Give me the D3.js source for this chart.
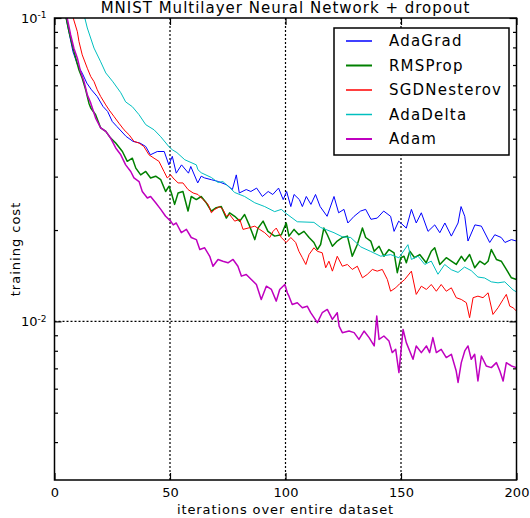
<!DOCTYPE html>
<html>
<head>
<meta charset="utf-8">
<script src="https://cdn.jsdelivr.net/npm/d3@7"></script>
<style>
    body { margin: 0; background: #fff; }
    text { font-family: "DejaVu Sans", sans-serif; }
</style>
</head>
<body>
<div id="chart"></div>
<script>
// [iteration, training cost]
const adaGrad = [[0,0.17],[3,0.12],[5,0.10],[8,0.0774],[10,0.0700],[12,0.0658],[14,0.0610],[16,0.0580],[18.5,0.0551],[21,0.0511],[23,0.0492],[25,0.0456],[27,0.0439],[31,0.0407],[34,0.0392],[37,0.0387],[39.5,0.0377],[41.5,0.0354],[44.5,0.0363],[47.5,0.0363],[49.5,0.0328],[51,0.0350],[52.7,0.0308],[55,0.0328],[58,0.0308],[59,0.0324],[62,0.0286],[63.5,0.0301],[65,0.0297],[68,0.0293],[71,0.0289],[74.5,0.0282],[77,0.0272],[78.7,0.0304],[80,0.0265],[83,0.0272],[85,0.0268],[87.5,0.0275],[90,0.0258],[92.5,0.0268],[94.5,0.0262],[97,0.0275],[99,0.0252],[100.5,0.0268],[102.3,0.0239],[103.7,0.0262],[106,0.0252],[107.3,0.0239],[109,0.0258],[111,0.0243],[113,0.0262],[115,0.0239],[118,0.0222],[121,0.0258],[123,0.0228],[125.3,0.0234],[127,0.0211],[129.7,0.0222],[132.5,0.0231],[134.7,0.0234],[137,0.0217],[139.7,0.0219],[142.5,0.0231],[145.5,0.0222],[147,0.0198],[149,0.0214],[152.3,0.0203],[154.5,0.0234],[156.6,0.0211],[158.8,0.0228],[161.7,0.0198],[164.6,0.0208],[166.8,0.0196],[169,0.0211],[171.8,0.0191],[174.7,0.0211],[176,0.0239],[177.6,0.0222],[179,0.0184],[182,0.0208],[184.8,0.0206],[188.4,0.0182],[190.6,0.0193],[193.4,0.0189],[195,0.0182],[197.8,0.0186],[200,0.0184]];

const rmsProp = [[0,0.16],[3,0.12],[4.8,0.102],[6.3,0.0901],[7.7,0.0815],[9.2,0.0737],[10.6,0.0674],[12,0.0633],[13.5,0.0580],[14.9,0.0524],[15.7,0.0505],[17.8,0.0480],[20,0.0434],[22.2,0.0423],[24.3,0.0402],[26.5,0.0387],[29.4,0.0363],[31.5,0.0337],[33.7,0.0345],[35.2,0.0320],[37.3,0.0304],[39.5,0.0312],[41.6,0.0297],[43.8,0.0301],[46,0.0293],[48.1,0.0268],[49.6,0.0279],[50.6,0.0265],[52,0.0243],[53.5,0.0265],[55.6,0.0268],[57.8,0.0231],[59.2,0.0258],[61.4,0.0252],[63.5,0.0258],[65.7,0.0246],[67.9,0.0231],[70,0.0237],[72.2,0.0239],[74.4,0.0219],[75.8,0.0228],[78,0.0222],[80.2,0.0214],[82.3,0.0225],[84.5,0.0206],[86.7,0.0186],[88.1,0.0203],[90.3,0.0214],[92.4,0.0198],[95.3,0.0191],[98.2,0.0193],[100.3,0.0211],[101.5,0.0191],[103.7,0.0201],[105.8,0.0193],[108,0.0198],[110.2,0.0189],[112.3,0.0182],[113.8,0.01725],[115.2,0.01792],[116.6,0.0203],[118.1,0.0193],[120.3,0.01769],[122.4,0.0184],[124.6,0.0189],[126.8,0.0191],[128.9,0.01639],[131.1,0.01792],[133.3,0.0203],[134.7,0.0189],[136.9,0.0184],[138.4,0.01702],[140.5,0.01769],[142.6,0.01639],[144.8,0.01725],[147,0.01683],[148.4,0.01447],[149.9,0.01621],[151.3,0.01639],[152.3,0.01560],[153.8,0.01702],[155.9,0.01621],[158.1,0.01661],[160.9,0.01560],[163.1,0.01702],[164.6,0.01748],[166.8,0.01540],[169.6,0.01621],[171.8,0.01579],[173.9,0.01540],[176.1,0.01639],[177.6,0.01579],[179.7,0.01661],[181.9,0.01502],[184.1,0.01579],[186.2,0.01540],[187.7,0.01579],[189.1,0.01725],[191.3,0.01600],[193.4,0.01579],[195.6,0.01483],[197.8,0.01392],[200,0.01374]];

const sgdNesterov = [[0,0.16],[4,0.125],[7.7,0.1023],[9.9,0.0901],[10.6,0.0836],[12,0.0756],[14.2,0.0683],[15.7,0.0641],[17.1,0.0617],[18.5,0.0580],[20,0.0551],[22.2,0.0517],[23.6,0.0498],[25.8,0.0473],[27.9,0.0450],[30.1,0.0428],[32.3,0.0412],[34.4,0.0392],[36.6,0.0387],[38.7,0.0377],[40.9,0.0354],[43.1,0.0345],[45.2,0.0337],[47.4,0.0312],[48.8,0.0297],[50.3,0.0304],[51.3,0.0297],[53.5,0.0286],[55.6,0.0286],[57.8,0.0272],[60,0.0265],[62.1,0.0262],[64.3,0.0252],[66.5,0.0243],[67.9,0.0228],[69.4,0.0234],[71.5,0.0239],[72.9,0.0234],[74.4,0.0222],[75.8,0.0225],[78,0.0214],[80.2,0.0217],[81.6,0.0201],[83.8,0.0203],[86.7,0.0206],[88.8,0.0201],[91,0.0196],[93.2,0.0189],[94.6,0.0198],[96,0.0203],[98.2,0.0189],[100.3,0.0182],[102.3,0.0189],[104.4,0.0182],[105.8,0.01702],[107.3,0.01621],[108.8,0.01540],[110.2,0.01661],[112.3,0.01748],[113.8,0.01702],[115.9,0.01683],[117.4,0.01502],[118.8,0.01579],[120.3,0.01464],[122.4,0.01639],[124.6,0.01520],[126.8,0.01540],[128.9,0.01483],[131.1,0.01520],[133.3,0.01392],[135.4,0.01428],[137.6,0.01483],[139.7,0.01464],[141.9,0.01483],[144.1,0.01374],[145.5,0.01257],[147.7,0.01290],[149.4,0.01330],[151.6,0.01374],[154.5,0.01464],[156.6,0.01227],[158.8,0.01306],[161,0.01274],[163.1,0.01323],[165.3,0.01257],[167.4,0.01323],[169.6,0.01257],[171.8,0.01290],[173.9,0.01197],[176.1,0.01181],[178.3,0.01152],[179.7,0.01028],[181.2,0.01197],[183.3,0.01211],[185.5,0.01197],[187.7,0.01242],[189.8,0.01054],[192,0.01109],[194.2,0.01181],[195.6,0.01227],[197.1,0.01122],[198.5,0.01109],[200,0.01081]];

const adaDelta = [[0,0.22],[6,0.15],[10,0.118],[12.8,0.1023],[14.2,0.0927],[17.1,0.0796],[20,0.0717],[22.2,0.0659],[25.3,0.0616],[28.7,0.0567],[30.8,0.0529],[33.7,0.0510],[36.6,0.0480],[39.5,0.0445],[43.1,0.0428],[46,0.0406],[49.6,0.0376],[51,0.0368],[53,0.0360],[56.4,0.0341],[61.4,0.0328],[62.1,0.0316],[63.5,0.0309],[67.9,0.0298],[70.8,0.0287],[72.9,0.0289],[75.8,0.0276],[78,0.0266],[82.3,0.0258],[86.7,0.0246],[91,0.0239],[95.3,0.0230],[98.2,0.0234],[100.2,0.0227],[105.1,0.0213],[112.3,0.0212],[115.2,0.0204],[121,0.0196],[124.6,0.0190],[128.2,0.0189],[132.6,0.0176],[136.9,0.0170],[141.2,0.0164],[145.5,0.0166],[149.1,0.0162],[153,0.0179],[154.5,0.0160],[157.4,0.0164],[160.3,0.0154],[163.1,0.0158],[166,0.0143],[168.9,0.0154],[171.8,0.0148],[174.7,0.0145],[177.5,0.0151],[180.4,0.0147],[183.3,0.0140],[186.2,0.0139],[189.1,0.0135],[192,0.0134],[194.9,0.0135],[198.5,0.0127],[200,0.0125]];

const adam = [[0,0.16],[3,0.12],[5.5,0.0998],[7,0.0879],[8.4,0.0795],[9.9,0.0737],[11.3,0.0666],[12.8,0.0617],[14.2,0.0558],[15.7,0.0524],[17.8,0.0468],[20,0.0434],[22.2,0.0423],[24.3,0.0402],[26.5,0.0373],[28.7,0.0354],[30.8,0.0328],[33,0.0312],[34.4,0.0297],[36.6,0.0289],[38,0.0268],[40.2,0.0255],[41.6,0.0258],[43.8,0.0246],[46,0.0234],[48.1,0.0222],[50.3,0.0214],[51.4,0.0208],[52.7,0.0211],[54.9,0.0196],[57.1,0.0201],[59.2,0.0189],[61.4,0.0186],[62.9,0.01725],[65,0.01748],[67.2,0.01639],[68.6,0.01520],[70.8,0.01600],[72.9,0.01579],[75.1,0.01560],[77.3,0.01600],[79.4,0.01520],[80.9,0.01410],[83,0.01428],[85.2,0.01374],[87.4,0.01323],[89.5,0.01181],[91.7,0.01306],[93.9,0.01274],[96,0.01166],[97.5,0.01274],[99.7,0.01323],[100.8,0.01242],[101.5,0.01211],[102.9,0.01137],[105.1,0.01152],[107.3,0.01109],[109.4,0.01122],[110.9,0.01068],[113.8,0.00990],[115.9,0.01068],[118.1,0.01095],[120.3,0.01015],[122.4,0.01068],[123.2,0.00965],[124.6,0.00918],[127.5,0.00929],[129.7,0.00918],[131.8,0.00872],[134,0.00929],[136.2,0.00884],[138.4,0.00830],[139.5,0.01041],[140.5,0.00872],[142.6,0.00895],[144.8,0.00861],[146.2,0.00789],[147.7,0.00809],[149.1,0.00678],[150.9,0.00941],[152.3,0.00851],[155.2,0.00750],[156.6,0.00830],[158.8,0.00789],[161,0.00830],[162.4,0.00789],[163.8,0.00884],[165.3,0.00789],[167.4,0.00809],[169.6,0.00760],[171.8,0.00779],[173.9,0.00686],[174.7,0.00629],[176.1,0.00731],[177.6,0.00799],[179,0.00830],[180.4,0.00750],[181.9,0.00779],[183.3,0.00636],[184.8,0.00769],[186.9,0.00713],[189.1,0.00704],[191.3,0.00731],[192.8,0.00686],[194.2,0.00636],[195.6,0.00731],[197.8,0.00713],[200,0.00704]];

const seriesNames = ["AdaGrad", "RMSProp", "SGDNesterov", "AdaDelta", "Adam"];
const xTicks = [0, 50, 100, 150, 200];
const xGrid = [50, 100, 150];
const yMajorTicks = [0.01, 0.1];
const yMinorTicks = [0.004, 0.005, 0.006, 0.007, 0.008, 0.009, 0.02, 0.03, 0.04, 0.05, 0.06, 0.07, 0.08, 0.09];

function lineColor(name) {
    return {AdaGrad: "#0000ff", RMSProp: "#008000", SGDNesterov: "#ff0000", AdaDelta: "#00bfbf", Adam: "#bf00bf"}[name];
}

function lineWidth(name) {
    return (name == "RMSProp" || name == "Adam") ? 1.5 : 1;
}

function renderLegend(svg) {
    const legend = svg.append("g")
        .attr("transform", "translate(279.5,10)");

    legend.append("rect")
        .attr("width", 175)
        .attr("height", 127)
        .style("fill", "white")
        .style("stroke", "black")
        .style("stroke-width", 1.5);

    // 24.5 is the distance between rows
    legend.selectAll("legend-lines")
        .data(seriesNames)
        .enter()
        .append("line")
        .attr("x1", 12)
        .attr("x2", 38)
        .attr("y1", function (d, i) { return 13 + i * 24.5 })
        .attr("y2", function (d, i) { return 13 + i * 24.5 })
        .style("stroke", lineColor)
        .style("stroke-width", function (d) { return lineWidth(d) + 0.5 });

    legend.selectAll("legend-labels")
        .data(seriesNames)
        .enter()
        .append("text")
        .attr("x", 55)
        .attr("y", function (d, i) { return 13 + i * 24.5 })
        .attr("dy", "0.36em")
        .style("font-size", "15px")
        .style("letter-spacing", "1.2px")
        .text(function (d) { return d });
}

function renderChart() {
    const margin = {top: 18, right: 13.5, bottom: 38, left: 54.5},
        width = 530 - margin.left - margin.right,
        height = 518 - margin.top - margin.bottom;

    const svg = d3.select("#chart").append("svg")
        .attr("width", 530)
        .attr("height", 518)
        .append("g")
        .attr("transform", "translate(" + margin.left + "," + margin.top + ")");

    const x = d3.scaleLinear()
        .domain([0, 200])
        .range([0, width]);

    const y = d3.scaleLog()
        .domain([0.003, 0.1])
        .range([height, 0]);

    svg.append("clipPath")
        .attr("id", "plot-clip")
        .append("rect")
        .attr("width", width)
        .attr("height", height);

    // dotted grid at the major ticks
    svg.selectAll("x-grid")
        .data(xGrid)
        .enter()
        .append("line")
        .attr("x1", function (d) { return x(d) })
        .attr("x2", function (d) { return x(d) })
        .attr("y1", 0)
        .attr("y2", height)
        .style("stroke", "black")
        .style("stroke-width", 1.2)
        .style("stroke-dasharray", "2,2");

    svg.append("line")
        .attr("x1", 0)
        .attr("x2", width)
        .attr("y1", y(0.01))
        .attr("y2", y(0.01))
        .style("stroke", "black")
        .style("stroke-width", 1.2)
        .style("stroke-dasharray", "2,2");

    const line = d3.line()
        .x(function (d) { return x(d[0]) })
        .y(function (d) { return y(d[1]) });

    const allSeries = [adaGrad, rmsProp, sgdNesterov, adaDelta, adam];
    svg.append("g")
        .attr("clip-path", "url(#plot-clip)")
        .selectAll("cost-line")
        .data(allSeries)
        .enter()
        .append("path")
        .attr("d", line)
        .style("fill", "none")
        .style("stroke", function (d, i) { return lineColor(seriesNames[i]) })
        .style("stroke-width", function (d, i) { return lineWidth(seriesNames[i]) })
        .style("stroke-linejoin", "round");

    // X axis, ticks pointing inwards like the matplotlib figure
    svg.append("g")
        .attr("transform", "translate(0," + height + ")")
        .call(d3.axisBottom(x).tickValues(xTicks).tickSize(-7).tickSizeOuter(0).tickPadding(8).tickFormat(d3.format("d")));
    svg.append("g")
        .call(d3.axisTop(x).tickValues(xTicks).tickSize(-7).tickSizeOuter(0).tickFormat(""));

    // Y axis, log scale with 10^n labels
    const yAxis = svg.append("g")
        .call(d3.axisLeft(y).tickValues(yMajorTicks).tickSize(-7).tickSizeOuter(0).tickPadding(8));
    yAxis.selectAll(".tick text").each(function (d) {
        const t = d3.select(this).text("");
        t.append("tspan").text("10");
        t.append("tspan")
            .attr("dy", "-0.5em")
            .style("font-size", "9px")
            .text(Math.round(Math.log10(d)));
    });
    svg.append("g")
        .call(d3.axisLeft(y).tickValues(yMinorTicks).tickSize(-3.5).tickSizeOuter(0).tickFormat(""));
    svg.append("g")
        .attr("transform", "translate(" + width + ",0)")
        .call(d3.axisRight(y).tickValues(yMajorTicks).tickSize(-7).tickSizeOuter(0).tickFormat(""));
    svg.append("g")
        .attr("transform", "translate(" + width + ",0)")
        .call(d3.axisRight(y).tickValues(yMinorTicks).tickSize(-3.5).tickSizeOuter(0).tickFormat(""));

    svg.selectAll(".tick text")
        .style("font-family", "'DejaVu Sans', sans-serif")
        .style("font-size", "13px")
        .style("fill", "black");
    svg.selectAll(".tick line")
        .style("stroke", "black")
        .style("stroke-width", 1.2);
    svg.selectAll(".domain").remove();

    // frame
    svg.append("rect")
        .attr("width", width)
        .attr("height", height)
        .style("fill", "none")
        .style("stroke", "black")
        .style("stroke-width", 1.5);

    renderLegend(svg);

    svg.append("text")
        .attr("x", width / 2)
        .attr("y", -5)
        .attr("text-anchor", "middle")
        .style("font-size", "15px")
        .style("letter-spacing", "1px")
        .text("MNIST Multilayer Neural Network + dropout");

    svg.append("text")
        .attr("x", width / 2)
        .attr("y", height + 34)
        .attr("text-anchor", "middle")
        .style("font-size", "13px")
        .style("letter-spacing", "0.9px")
        .text("iterations over entire dataset");

    svg.append("text")
        .attr("transform", "rotate(-90)")
        .attr("x", -height / 2)
        .attr("y", -35)
        .attr("text-anchor", "middle")
        .style("font-size", "13px")
        .style("letter-spacing", "1px")
        .text("training cost");
}

renderChart();
</script>
</body>
</html>
